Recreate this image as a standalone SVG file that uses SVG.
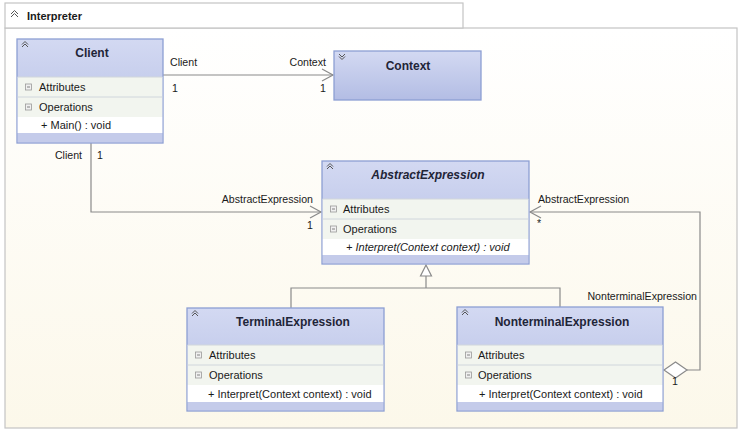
<svg xmlns="http://www.w3.org/2000/svg" width="749" height="433" viewBox="0 0 749 433">
<defs>
<linearGradient id="pkg" x1="0" y1="0" x2="0" y2="1"><stop offset="0" stop-color="#ffffff"/><stop offset="1" stop-color="#fcf8ea"/></linearGradient>
<linearGradient id="hdr" x1="0" y1="0" x2="0" y2="1"><stop offset="0" stop-color="#d3d9f2"/><stop offset="1" stop-color="#b3bde4"/></linearGradient>
<marker id="open" markerWidth="14" markerHeight="14" refX="12" refY="7" orient="auto" markerUnits="userSpaceOnUse"><path d="M1,1 L12,7 L1,13" fill="none" stroke="#8a8a8a" stroke-width="1.2"/></marker>
</defs>
<style>
text{font-family:"Liberation Sans",Arial,sans-serif;font-size:11px;fill:#1a1a1a}
.t{font-weight:bold;font-size:12px;text-anchor:middle;fill:#1f2538}
.it{font-style:italic}
.lb{font-size:10.6px}
.box{fill:url(#hdr);stroke:#8d9fd3;stroke-width:1.3}
.row{fill:#f2f5ef}
.mem{fill:#ffffff}
.band{fill:#c4cbea}
.sep{stroke:#d0d6dc;stroke-width:1}
.ic{fill:#f0f0f0;stroke:#9a9a9a;stroke-width:0.8}
.icl{stroke:#666;stroke-width:0.8}
.chev{fill:none;stroke:#555;stroke-width:1}
.con{fill:none;stroke:#8a8a8a;stroke-width:1.2}
</style>
<rect x="0" y="0" width="749" height="433" fill="#ffffff"/>
<g id="package">
<rect x="5" y="28" width="732" height="400" fill="url(#pkg)" stroke="#c4c4c4" stroke-width="1.2"/>
<rect x="5" y="3" width="458" height="25" fill="#ffffff" stroke="#c4c4c4" stroke-width="1.2"/>
<path class="chev" d="M11,17 L14.5,13.5 L18,17 M11,14 L14.5,10.5 L18,14"/>
<text x="27" y="20" style="font-weight:bold">Interpreter</text>
</g>
<g id="connectors">
<path class="con" d="M163,75 L333,75" marker-end="url(#open)"/>
<path class="con" d="M91,143 L91,212 L321,212" marker-end="url(#open)"/>
<path class="con" d="M687,370 L700,370 L700,212 L530,212" marker-end="url(#open)"/>
<path d="M664,370 L675.5,362 L687,370 L675.5,378 Z" fill="#ffffff" stroke="#8a8a8a" stroke-width="1.2"/>
<path class="con" d="M291,308 L291,288 L560,288 L560,307 M426,288 L426,276"/>
<path d="M426,265 L420.5,276 L431.5,276 Z" fill="#ffffff" stroke="#8a8a8a" stroke-width="1.2"/>
<text class="lb" x="170" y="66">Client</text>
<text class="lb" x="172" y="92">1</text>
<text class="lb" x="326" y="66" text-anchor="end">Context</text>
<text class="lb" x="326" y="92" text-anchor="end">1</text>
<text class="lb" x="82" y="159" text-anchor="end">Client</text>
<text class="lb" x="97" y="159">1</text>
<text class="lb" x="313" y="203" text-anchor="end">AbstractExpression</text>
<text class="lb" x="313" y="229" text-anchor="end">1</text>
<text class="lb" x="538" y="203">AbstractExpression</text>
<text class="lb" x="537" y="227">*</text>
<text class="lb" x="697" y="300" text-anchor="end">NonterminalExpression</text>
<text class="lb" x="672" y="385">1</text>
</g>
<g id="client">
<rect class="box" x="17" y="39" width="146" height="104"/>
<rect class="row" x="17.6" y="77" width="144.8" height="40"/>
<rect class="mem" x="17.6" y="117" width="144.8" height="16"/>
<rect class="band" x="17.6" y="133" width="144.8" height="9.4"/>
<line class="sep" x1="17.6" y1="77" x2="162.4" y2="77"/>
<line class="sep" x1="17.6" y1="97" x2="162.4" y2="97"/>
<path class="chev" d="M22,47 L25,44 L28,47 M22,44.5 L25,41.5 L28,44.5"/>
<text class="t" x="92" y="57">Client</text>
<rect class="ic" x="25.5" y="84" width="6" height="6"/><line class="icl" x1="27" y1="87" x2="30" y2="87"/>
<text x="39" y="91">Attributes</text>
<rect class="ic" x="25.5" y="104" width="6" height="6"/><line class="icl" x1="27" y1="107" x2="30" y2="107"/>
<text x="39" y="111">Operations</text>
<text x="41" y="129">+ Main() : void</text>
</g>
<g id="context">
<rect class="box" x="334" y="51" width="147" height="49"/>
<path class="chev" d="M339,54 L342,57 L345,54 M339,56.5 L342,59.5 L345,56.5"/>
<text class="t" x="408" y="70">Context</text>
</g>
<g id="abstractexpression">
<rect class="box" x="322" y="161" width="207" height="103"/>
<rect class="row" x="322.6" y="199" width="205.8" height="40"/>
<rect class="mem" x="322.6" y="239" width="205.8" height="16"/>
<rect class="band" x="322.6" y="255" width="205.8" height="8.4"/>
<line class="sep" x1="322.6" y1="199" x2="528.4" y2="199"/>
<line class="sep" x1="322.6" y1="219" x2="528.4" y2="219"/>
<path class="chev" d="M327,169 L330,166 L333,169 M327,166.5 L330,163.5 L333,166.5"/>
<text class="t it" x="428" y="179">AbstractExpression</text>
<rect class="ic" x="330.5" y="206" width="6" height="6"/><line class="icl" x1="332" y1="209" x2="335" y2="209"/>
<text x="343" y="213">Attributes</text>
<rect class="ic" x="330.5" y="226" width="6" height="6"/><line class="icl" x1="332" y1="229" x2="335" y2="229"/>
<text x="343" y="233">Operations</text>
<text class="it" x="346" y="251">+ Interpret(Context context) : void</text>
</g>
<g id="terminalexpression">
<rect class="box" x="187" y="308" width="197" height="103"/>
<rect class="row" x="187.6" y="345" width="195.8" height="40"/>
<rect class="mem" x="187.6" y="385" width="195.8" height="17"/>
<rect class="band" x="187.6" y="402" width="195.8" height="8.4"/>
<line class="sep" x1="187.6" y1="345" x2="383.4" y2="345"/>
<line class="sep" x1="187.6" y1="365" x2="383.4" y2="365"/>
<path class="chev" d="M192,316 L195,313 L198,316 M192,313.5 L195,310.5 L198,313.5"/>
<text class="t" x="293" y="326">TerminalExpression</text>
<rect class="ic" x="195.5" y="352" width="6" height="6"/><line class="icl" x1="197" y1="355" x2="200" y2="355"/>
<text x="209" y="359">Attributes</text>
<rect class="ic" x="195.5" y="372" width="6" height="6"/><line class="icl" x1="197" y1="375" x2="200" y2="375"/>
<text x="209" y="379">Operations</text>
<text x="208" y="398">+ Interpret(Context context) : void</text>
</g>
<g id="nonterminalexpression">
<rect class="box" x="457" y="307" width="206" height="104"/>
<rect class="row" x="457.6" y="345" width="204.8" height="40"/>
<rect class="mem" x="457.6" y="385" width="204.8" height="17"/>
<rect class="band" x="457.6" y="402" width="204.8" height="8.4"/>
<line class="sep" x1="457.6" y1="345" x2="662.4" y2="345"/>
<line class="sep" x1="457.6" y1="365" x2="662.4" y2="365"/>
<path class="chev" d="M462,315 L465,312 L468,315 M462,312.5 L465,309.5 L468,312.5"/>
<text class="t" x="562" y="326">NonterminalExpression</text>
<rect class="ic" x="465.5" y="352" width="6" height="6"/><line class="icl" x1="467" y1="355" x2="470" y2="355"/>
<text x="478" y="359">Attributes</text>
<rect class="ic" x="465.5" y="372" width="6" height="6"/><line class="icl" x1="467" y1="375" x2="470" y2="375"/>
<text x="478" y="379">Operations</text>
<text x="479" y="398">+ Interpret(Context context) : void</text>
</g>
</svg>
